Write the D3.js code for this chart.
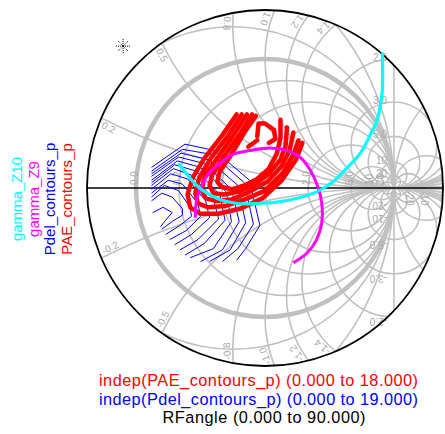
<!DOCTYPE html>
<html>
<head>
<meta charset="utf-8">
<script src="https://cdn.jsdelivr.net/npm/d3@7"></script>
<style>
  body { margin: 0; background: #fff; }
  svg { display: block; font-family: "Liberation Sans", Arial, sans-serif; }
</style>
</head>
<body>
<svg id="chart" width="445" height="434"></svg>
<script>
// reflection coefficients, [re, im]
const gammaZ10 = [[-0.67,0.19],[-0.60,0.10],[-0.53,0.02],[-0.45,-0.04],[-0.35,-0.09],[-0.22,-0.12],
  [-0.06,-0.12],[0.09,-0.11],[0.25,-0.08],[0.40,-0.03],[0.53,0.05],[0.64,0.16],[0.74,0.27],
  [0.81,0.40],[0.87,0.53],[0.90,0.68],[0.91,0.76],[0.91,1.05]];

const gammaZ9 = [[-0.54,-0.23],[-0.53,-0.09],[-0.49,0.02],[-0.43,0.12],[-0.35,0.19],[-0.25,0.26],
  [-0.12,0.29],[0.04,0.31],[0.17,0.29],[0.27,0.24],[0.35,0.14],[0.41,0.01],[0.44,-0.12],
  [0.44,-0.27],[0.40,-0.40],[0.33,-0.50],[0.22,-0.58]];

const paeContours = [
  [[-0.22,0.57],[-0.33,0.41],[-0.47,0.23],[-0.56,0.08],[-0.60,-0.05],[-0.58,-0.15],[-0.50,-0.20],[-0.36,-0.20],[-0.19,-0.16],[-0.02,-0.08],[0.13,0.06],[0.24,0.22],[0.29,0.35]],
  [[-0.18,0.57],[-0.29,0.40],[-0.42,0.23],[-0.51,0.08],[-0.54,-0.04],[-0.52,-0.12],[-0.44,-0.15],[-0.31,-0.14],[-0.16,-0.09],[0.00,-0.02],[0.14,0.12],[0.22,0.26],[0.26,0.37]],
  [[-0.14,0.57],[-0.25,0.40],[-0.37,0.23],[-0.47,0.09],[-0.49,-0.02],[-0.46,-0.08],[-0.38,-0.10],[-0.26,-0.09],[-0.12,-0.03],[0.02,0.05],[0.13,0.17],[0.19,0.29],[0.22,0.43]],
  [[-0.10,0.57],[-0.20,0.41],[-0.32,0.24],[-0.41,0.10],[-0.43,0.02],[-0.40,-0.04],[-0.32,-0.05],[-0.21,-0.03],[-0.09,0.02],[0.03,0.11],[0.12,0.22],[0.16,0.33],[0.17,0.47]],
  [[-0.07,0.56],[-0.16,0.43],[-0.26,0.26],[-0.35,0.13],[-0.37,0.05],[-0.34,0.01],[-0.26,-0.01],[-0.16,0.02],[-0.06,0.07],[0.03,0.15],[0.09,0.26],[0.12,0.39],[0.12,0.53]],
  [[-0.06,0.40],[-0.05,0.50],[0.00,0.50],[0.07,0.45],[0.08,0.38],[0.03,0.35]],
  [[-0.13,0.32],[-0.06,0.37]]
];

const pdelContours = [
  [[-0.88,0.16],[-0.62,0.34],[-0.39,0.29],[-0.12,0.06],[-0.04,-0.29],[-0.15,-0.47],[-0.22,-0.56]],
  [[-0.88,0.13],[-0.64,0.30],[-0.41,0.26],[-0.16,0.04],[-0.09,-0.28],[-0.21,-0.47],[-0.33,-0.57]],
  [[-0.88,0.11],[-0.65,0.27],[-0.44,0.22],[-0.21,0.02],[-0.15,-0.27],[-0.27,-0.48],[-0.43,-0.57]],
  [[-0.88,0.09],[-0.67,0.24],[-0.47,0.19],[-0.26,-0.01],[-0.20,-0.26],[-0.33,-0.48],[-0.50,-0.57]],
  [[-0.88,0.06],[-0.68,0.21],[-0.50,0.16],[-0.30,-0.03],[-0.26,-0.26],[-0.40,-0.47],[-0.58,-0.54]],
  [[-0.88,0.04],[-0.70,0.18],[-0.53,0.13],[-0.35,-0.05],[-0.31,-0.25],[-0.47,-0.43],[-0.62,-0.52]],
  [[-0.88,0.02],[-0.71,0.15],[-0.57,0.10],[-0.40,-0.08],[-0.36,-0.24],[-0.52,-0.40],[-0.66,-0.48]],
  [[-0.88,-0.01],[-0.73,0.11],[-0.60,0.07],[-0.46,-0.10],[-0.43,-0.23],[-0.57,-0.36],[-0.70,-0.44]],
  [[-0.88,-0.04],[-0.75,0.06],[-0.64,0.03],[-0.52,-0.12],[-0.50,-0.22],[-0.61,-0.33],[-0.74,-0.40]],
  [[-0.88,-0.07],[-0.78,0.02],[-0.67,-0.02],[-0.58,-0.15],[-0.57,-0.22],[-0.66,-0.29],[-0.77,-0.36]],
  [[-0.88,-0.10],[-0.80,-0.04],[-0.72,-0.07],[-0.64,-0.16],[-0.64,-0.21],[-0.72,-0.26],[-0.80,-0.32]],
  [[-0.87,-0.19],[-0.79,-0.15],[-0.72,-0.19],[-0.77,-0.25],[-0.81,-0.30]]
];

// smith grid
const resistances = [0.2, 0.5, 1, 2, 5, 10, 20];
const negResistances = [-0.2, -0.5, -2, -5, -10, -20];
const reactances = [0.2, 0.5, 0.8, 1, 1.2, 1.4, 2, 3, 5, 10, 20];
const reactanceText = ["0.2", "0.5", "0.8", "1.0", "1.2", "1.4", "2.0", "3.0", "5.0", "10", "20"];
const rAxisLabels = [[0, "0.0"], [0.2, "0.2"], [0.5, "0.5"], [1, "1.0"], [2, "2.0"], [5, "5.0"], [10, "10"], [20, "20"]];
const rNegLabels = [[-10, "-10"], [-20, "-20"]];
const markerPos = [-1.10, 1.10];

const legendNames = ["gamma_Z10", "gamma_Z9", "Pdel_contours_p", "PAE_contours_p"];
const legendColors = ["#00ffff", "#ff00ff", "#0000ff", "#ff0000"];
const sweepText = ["indep(PAE_contours_p) (0.000 to 18.000)", "indep(Pdel_contours_p) (0.000 to 19.000)", "RFangle (0.000 to 90.000)"];
const sweepColors = ["#ff0000", "#0000ff", "#000000"];

const cx = 265, cy = 188, unit = 129, rhoMax = 1.38;
const gridColor = "#c0c0c0";

const svg = d3.select("#chart");
const px = d3.scaleLinear().domain([-1, 1]).range([cx - unit, cx + unit]);
const py = d3.scaleLinear().domain([-1, 1]).range([cy + unit, cy - unit]);
const len = v => px(v) - px(0);

svg.append("defs").append("clipPath").attr("id", "clipOuter")
  .append("circle").attr("cx", px(0)).attr("cy", py(0)).attr("r", len(rhoMax));

const grid = svg.append("g").attr("clip-path", "url(#clipOuter)")
  .attr("fill", "none").attr("stroke", gridColor).attr("stroke-width", 1.6);

// resistance circles, both signs
grid.selectAll("circle.r")
  .data(resistances.concat(negResistances))
  .enter().append("circle")
  .attr("class", "r")
  .attr("cx", r => px(r / (r + 1)))
  .attr("cy", py(0))
  .attr("r", r => len(1 / Math.abs(r + 1)));

// r = -1 is a straight line
grid.append("line")
  .attr("x1", px(1)).attr("x2", px(1))
  .attr("y1", py(rhoMax)).attr("y2", py(-rhoMax));

// reactance circles
const allX = reactances.concat(reactances.map(v => -v));
grid.selectAll("circle.x")
  .data(allX)
  .enter().append("circle")
  .attr("class", "x")
  .attr("cx", px(1))
  .attr("cy", x => py(1 / x))
  .attr("r", x => len(1 / Math.abs(x)));

// unit circle
svg.append("circle")
  .attr("cx", px(0)).attr("cy", py(0)).attr("r", len(1))
  .attr("fill", "none").attr("stroke", gridColor).attr("stroke-width", 4.5);

// labels of the grid
const labG = svg.append("g").attr("font-size", 10).attr("fill", "#a8a8a8");
const rhoLab = 1.35;

function edgeSpot(x) {
  const c = [1, 1 / x], a = 1 / x;
  const d = Math.hypot(c[0], c[1]);
  const l = (rhoLab * rhoLab - a * a + d * d) / (2 * d);
  const h = Math.sqrt(Math.max(0, rhoLab * rhoLab - l * l));
  const ux = c[0] / d, uy = c[1] / d;
  const p1 = [l * ux - h * uy, l * uy + h * ux];
  const p2 = [l * ux + h * uy, l * uy - h * ux];
  const p = p1[0] < p2[0] ? p1 : p2;
  let t = [-(p[1] - c[1]), p[0] - c[0]];
  if (t[0] * p[0] + t[1] * p[1] > 0) t = [-t[0], -t[1]];
  const ang = Math.atan2(-t[1], t[0]) * 180 / Math.PI;
  return { p, ang };
}

reactances.forEach((x, i) => {
  const txt = reactanceText[i];
  if (x >= 2) {
    labG.append("text")
      .attr("transform", `translate(${px(1) - 7},${py(2 / x) + 2})`)
      .attr("text-anchor", "end").text(txt);
    labG.append("text")
      .attr("transform", `translate(${px(1) - 7},${py(-2 / x) + 1}) rotate(180)`)
      .attr("text-anchor", "start").text("-" + txt);
  } else {
    const s = edgeSpot(x);
    labG.append("text")
      .attr("transform", `translate(${px(s.p[0])},${py(s.p[1])}) rotate(${s.ang})`)
      .attr("dy", "0.9em").text(txt);
    labG.append("text")
      .attr("transform", `translate(${px(s.p[0])},${py(-s.p[1])}) rotate(${-s.ang})`)
      .attr("dy", "-0.2em").text("-" + txt);
  }
});

rAxisLabels.forEach(([r, txt]) => {
  const g = (r - 1) / (r + 1);
  labG.append("text")
    .attr("transform", `translate(${px(g) + 2},${py(0) - 3}) rotate(-90)`)
    .text(txt);
});
rNegLabels.forEach(([r, txt]) => {
  const g = (r - 1) / (r + 1);
  labG.append("text")
    .attr("transform", `translate(${px(g) - 2},${py(0) + 3}) rotate(90)`)
    .text(txt);
});

// outer boundary and real axis
svg.append("circle")
  .attr("cx", px(0)).attr("cy", py(0)).attr("r", len(rhoMax))
  .attr("fill", "none").attr("stroke", "#000").attr("stroke-width", 1.8);
svg.append("line")
  .attr("x1", px(-rhoMax)).attr("x2", px(rhoMax))
  .attr("y1", py(0)).attr("y2", py(0))
  .attr("stroke", "#000").attr("stroke-width", 1.6);

// traces
const line = d3.line().x(d => px(d[0])).y(d => py(d[1]));

svg.append("g").selectAll("path")
  .data(pdelContours).enter().append("path")
  .attr("d", line).attr("fill", "none")
  .attr("stroke", "#0000ff").attr("stroke-width", 1);

svg.append("g").selectAll("path")
  .data(paeContours).enter().append("path")
  .attr("d", line).attr("fill", "none")
  .attr("stroke", "#ff0000").attr("stroke-width", 4.5)
  .attr("stroke-linejoin", "round").attr("stroke-linecap", "round");

svg.append("path").datum(gammaZ9)
  .attr("d", line.curve(d3.curveCatmullRom)).attr("fill", "none")
  .attr("stroke", "#ff00ff").attr("stroke-width", 3);

svg.append("path").datum(gammaZ10)
  .attr("d", line.curve(d3.curveCatmullRom)).attr("fill", "none")
  .attr("stroke", "#00ffff").attr("stroke-width", 3.2);

// sparkle marker
const mk = svg.append("g")
  .attr("transform", `translate(${px(markerPos[0])},${py(markerPos[1])})`)
  .attr("stroke", "#000").attr("stroke-width", 1).attr("stroke-dasharray", "1,1");
d3.range(8).forEach(k => {
  const a = k * Math.PI / 4;
  mk.append("line").attr("x1", 0).attr("y1", 0)
    .attr("x2", 7 * Math.cos(a)).attr("y2", 7 * Math.sin(a));
});

// legend on the left, rotated
legendNames.forEach((name, i) => {
  svg.append("text")
    .attr("transform", `translate(${22 + i * 16.7},199) rotate(-90)`)
    .attr("text-anchor", "middle")
    .attr("font-size", 15).attr("fill", legendColors[i])
    .text(name);
});

// sweep ranges below the chart
const sweepX = [99, 99, 264];
const sweepW = [319, 319, 203];
const sweepAnchor = ["start", "start", "middle"];
sweepText.forEach((t, i) => {
  svg.append("text")
    .attr("x", sweepX[i]).attr("y", 386 + i * 18.5)
    .attr("text-anchor", sweepAnchor[i])
    .attr("textLength", sweepW[i]).attr("lengthAdjust", "spacing")
    .attr("font-size", 16.3).attr("fill", sweepColors[i])
    .text(t);
});
</script>
</body>
</html>
